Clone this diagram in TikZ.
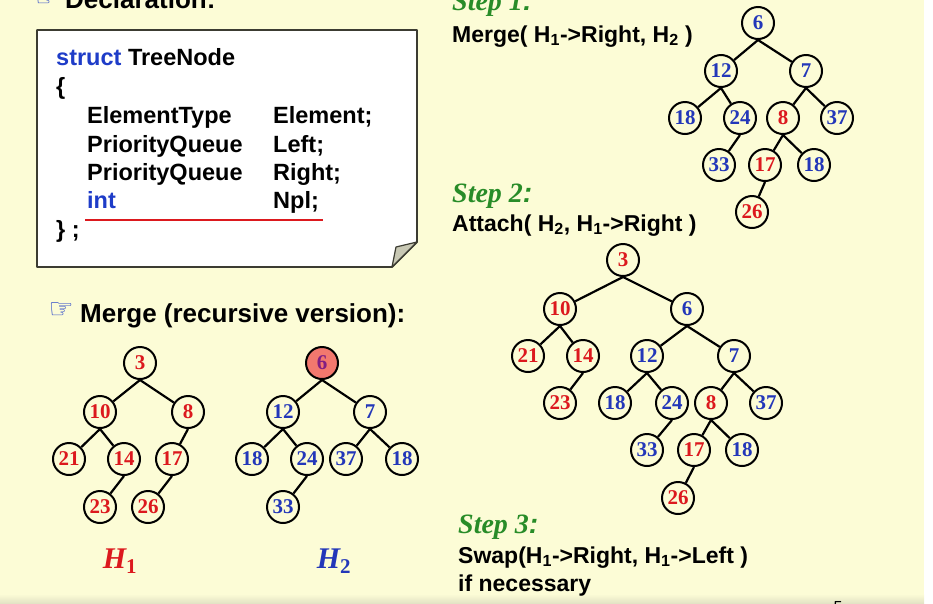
\documentclass[tikz,border=0pt]{standalone}
\usepackage{fontspec}
\setmainfont{Liberation Serif}
\setsansfont{Liberation Sans}
\newfontfamily\symfont{DejaVu Sans}

\definecolor{slidebg}{RGB}{252,252,214}
\definecolor{numred}{RGB}{220,25,30}
\definecolor{numblue}{RGB}{35,55,185}
\definecolor{kwblue}{RGB}{30,60,200}
\definecolor{stepgreen}{RGB}{40,140,40}
\definecolor{rootfill}{RGB}{242,120,110}
\definecolor{rootpurple}{RGB}{130,30,130}
\definecolor{boxline}{RGB}{60,60,50}
\definecolor{flapgray}{RGB}{200,200,180}

\newcommand{\titlefont}{\fontsize{26}{30}\selectfont\sffamily\bfseries}
\newcommand{\codefont}{\fontsize{23.5}{27}\selectfont\sffamily\bfseries}
\newcommand{\stepfont}{\fontsize{23}{26}\selectfont\sffamily\bfseries}
\newcommand{\steplabelfont}{\fontsize{28}{30}\selectfont\rmfamily\bfseries\itshape}
\newcommand{\numfont}{\fontsize{21}{21}\selectfont\rmfamily\bfseries}

\begin{document}
\begin{tikzpicture}[
    x=1pt, y=-1pt,
    heapnode/.style={circle, draw=black, line width=2pt, minimum size=32pt, inner sep=0pt, font=\numfont},
    rnode/.style={heapnode, text=numred},
    bnode/.style={heapnode, text=numblue},
    edge/.style={line width=2.2pt},
    codeline/.style={anchor=base west, inner sep=0pt, font=\codefont},
    steptext/.style={anchor=base west, inner sep=0pt, font=\stepfont},
    steplabel/.style={anchor=base west, inner sep=0pt, font=\steplabelfont, text=stepgreen},
    heaplabel/.style={anchor=base, inner sep=0pt, font=\fontsize{30}{32}\selectfont\rmfamily\bfseries},
    hand/.style={anchor=base east, inner sep=0pt, font=\fontsize{28}{28}\symfont\bfseries, text=kwblue}
]

    \useasboundingbox (0,0) rectangle (933,603);
    \clip (0,0) rectangle (933,603);

    % === Slide background ===
    \fill[slidebg] (0,0) rectangle (924,594);
    \shade[top color=slidebg, bottom color=slidebg!80!gray] (0,594) rectangle (924,603);

    \node[anchor=base west, inner sep=0pt, font=\titlefont] (decl) at (65,8) {Declaration:};
    \node[hand] (declhand) at (60,6) {☞};

    % === Declaration box ===
    \draw[boxline, fill=white, line width=1.8pt, line join=round]
        (37,30) -- (417,30) -- (417,242) -- (392,267) -- (37,267) -- cycle;
    \draw[boxline, fill=flapgray, line width=1.2pt, line join=round]
        (417,242) -- (396,247) -- (392,267) -- cycle;

    \node[codeline] (code1) at (56,65) {\textcolor{kwblue}{struct} TreeNode};
    \node[codeline] (code2) at (56,94) {\{};
    \node[codeline] (type1) at (87,123) {ElementType};
    \node[codeline] (field1) at (273,123) {Element;};
    \node[codeline] (type2) at (87,152) {PriorityQueue};
    \node[codeline] (field2) at (273,152) {Left;};
    \node[codeline] (type3) at (87,180) {PriorityQueue};
    \node[codeline] (field3) at (273,180) {Right;};
    \node[codeline, text=kwblue] (type4) at (87,208) {int};
    \node[codeline] (field4) at (273,208) {Npl;};
    \node[codeline] (code3) at (56,237) {\} ;};
    \draw[numred, line width=1.8pt] (85,220) -- (323,220);

    % === Merge (recursive version) ===
    \node[hand] (mergehand) at (74,318) {☞};
    \node[anchor=base west, inner sep=0pt, font=\titlefont] (mergetitle) at (80,322) {Merge (recursive version):};

    % H1
    \begin{scope}[shift={(140,363)}]
        \node[rnode] (a3) at (0,0) {3};
        \node[rnode] (a10) at (-40,49) {10};
        \node[rnode] (a8) at (48,49) {8};
        \node[rnode] (a21) at (-71,96) {21};
        \node[rnode] (a14) at (-16,96) {14};
        \node[rnode] (a17) at (32,96) {17};
        \node[rnode] (a23) at (-40,144) {23};
        \node[rnode] (a26) at (8,144) {26};
        \draw[edge] (a3.south) -- (a10) (a3.south) -- (a8) (a10.south) -- (a21) (a10.south) -- (a14)
            (a8.south) -- (a17) (a14.south) -- (a23) (a17.south) -- (a26);
    \end{scope}

    % H2
    \begin{scope}[shift={(322,363)}]
        \node[heapnode, fill=rootfill, text=rootpurple] (b6) at (0,0) {6};
        \node[bnode] (b12) at (-39,49) {12};
        \node[bnode] (b7) at (48,49) {7};
        \node[bnode] (b18) at (-70,96) {18};
        \node[bnode] (b24) at (-15,96) {24};
        \node[bnode] (b37) at (24,96) {37};
        \node[bnode] (b18r) at (80,96) {18};
        \node[bnode] (b33) at (-39,144) {33};
        \draw[edge] (b6.south) -- (b12) (b6.south) -- (b7) (b12.south) -- (b18) (b12.south) -- (b24)
            (b7.south) -- (b37) (b7.south) -- (b18r) (b24.south) -- (b33);
    \end{scope}

    \node[heaplabel, text=numred] (h1label) at (120,568) {\itshape H\textsubscript{\upshape 1}};
    \node[heaplabel, text=numblue] (h2label) at (334,568) {\itshape H\textsubscript{\upshape 2}};

    % === Step 1 ===
    \node[steplabel] (step1) at (452,10) {Step 1\textsf{:}};
    \node[steptext] (step1text) at (452,42) {Merge( H\textsubscript{1}->Right, H\textsubscript{2} )};

    \begin{scope}[shift={(758,23)}]
        \node[bnode] (s6) at (0,0) {6};
        \node[bnode] (s12) at (-37,48) {12};
        \node[bnode] (s7) at (48,48) {7};
        \node[bnode] (s18) at (-73,95) {18};
        \node[bnode] (s24) at (-18,95) {24};
        \node[rnode] (s8) at (25,95) {8};
        \node[bnode] (s37) at (79,95) {37};
        \node[bnode] (s33) at (-39,142) {33};
        \node[rnode] (s17) at (7,142) {17};
        \node[bnode] (s18r) at (56,142) {18};
        \node[rnode] (s26) at (-6,189) {26};
        \draw[edge] (s6.south) -- (s12) (s6.south) -- (s7) (s12.south) -- (s18) (s12.south) -- (s24)
            (s7.south) -- (s8) (s7.south) -- (s37) (s24.south) -- (s33) (s8.south) -- (s17)
            (s8.south) -- (s18r) (s17.south) -- (s26);
    \end{scope}

    % === Step 2 ===
    \node[steplabel] (step2) at (452,202) {Step 2\textsf{:}};
    \node[steptext] (step2text) at (452,231) {Attach( H\textsubscript{2}, H\textsubscript{1}->Right )};

    \begin{scope}[shift={(623,260)}]
        \node[rnode] (t3) at (0,0) {3};
        \node[rnode] (t10) at (-63,49) {10};
        \node[bnode] (t6) at (64,49) {6};
        \node[rnode] (t21) at (-95,96) {21};
        \node[rnode] (t14) at (-40,96) {14};
        \node[bnode] (t12) at (24,96) {12};
        \node[bnode] (t7) at (111,96) {7};
        \node[rnode] (t23) at (-63,143) {23};
        \node[bnode] (t18) at (-8,143) {18};
        \node[bnode] (t24) at (49,143) {24};
        \node[rnode] (t8) at (88,143) {8};
        \node[bnode] (t37) at (143,143) {37};
        \node[bnode] (t33) at (24,190) {33};
        \node[rnode] (t17) at (71,190) {17};
        \node[bnode] (t18r) at (119,190) {18};
        \node[rnode] (t26) at (55,238) {26};
        \draw[edge] (t3.south) -- (t10) (t3.south) -- (t6) (t10.south) -- (t21) (t10.south) -- (t14)
            (t14.south) -- (t23) (t6.south) -- (t12) (t6.south) -- (t7) (t12.south) -- (t18)
            (t12.south) -- (t24) (t24.south) -- (t33) (t7.south) -- (t8) (t7.south) -- (t37)
            (t8.south) -- (t17) (t8.south) -- (t18r) (t17.south) -- (t26);
    \end{scope}

    % === Step 3 ===
    \node[steplabel] (step3) at (458,533) {Step 3\textsf{:}};
    \node[steptext] (step3text) at (458,563) {Swap(H\textsubscript{1}->Right, H\textsubscript{1}->Left )};
    \node[steptext] (step3cond) at (458,591) {if necessary};

    \node[anchor=base, inner sep=0pt, font=\fontsize{16}{16}\selectfont\sffamily] (pagenum) at (838,612) {5};

\end{tikzpicture}
\end{document}
